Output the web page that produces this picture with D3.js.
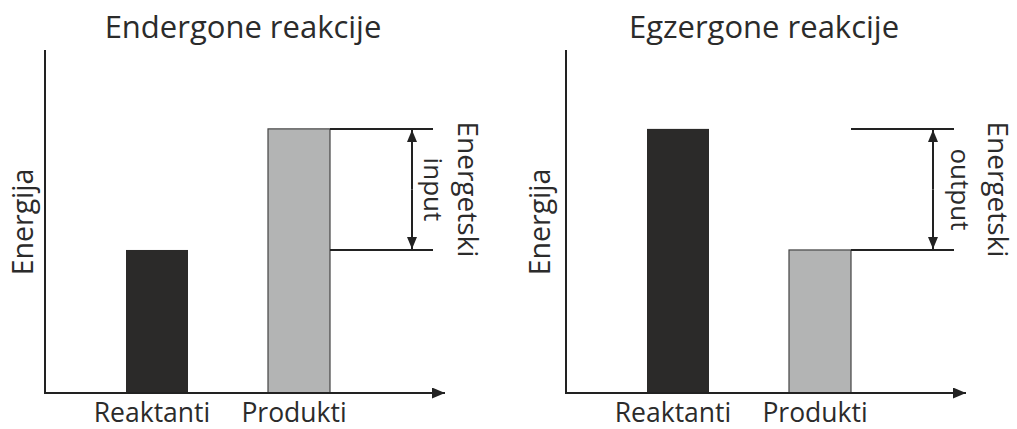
<!DOCTYPE html>
<html>
<head>
<meta charset="utf-8">
<script src="https://cdn.jsdelivr.net/npm/d3@7"></script>
<style>
  html, body { margin: 0; padding: 0; background: #fff; }
  svg { display: block; }
  text { font-family: "Open Sans", "Noto Sans", sans-serif; fill: #2b2b2b; }
</style>
</head>
<body>
<svg id="chart" width="1017" height="429"></svg>
<script>
// ---- data ----
const categories = ["Reaktanti", "Produkti"];
const panelTitles = ["Endergone reakcije", "Egzergone reakcije"];
const endergonicValues = [41.7, 77];
const exergonicValues = [77, 41.7];
const gapLabels = ["input", "output"];
const yAxisLabel = "Energija";
const gapTitle = "Energetski";

const panels = [
  { title: panelTitles[0], values: endergonicValues, gap: gapLabels[0] },
  { title: panelTitles[1], values: exergonicValues, gap: gapLabels[1] }
];

// ---- layout ----
const origins = [45, 566];
const axisY = 393, axisTop = 50;
const svg = d3.select("#chart");
const colors = ["#2b2a29", "#b3b4b4"];
const y = d3.scaleLinear().domain([0, 100]).range([axisY, axisTop]);
const x = d3.scalePoint().domain(categories).range([112, 254]);
const barW = 62;
const ink = "#222";

const defs = svg.append("defs");
function marker(id, w, h) {
  defs.append("marker").attr("id", id)
    .attr("viewBox", `0 0 ${w} ${h}`).attr("refX", w).attr("refY", h / 2)
    .attr("markerWidth", w).attr("markerHeight", h).attr("markerUnits", "userSpaceOnUse")
    .attr("orient", "auto-start-reverse")
    .append("path").attr("d", `M0,0L${w},${h / 2}L0,${h}Z`).attr("fill", ink);
}
marker("axArrow", 13, 11);
marker("gapArrow", 12, 10);

const labelOffsets = [
  { energija: -12, gapText: 379, energetski: 413 },
  { energija: -16, gapText: 385, energetski: 422 }
];

panels.forEach((p, i) => {
  const g = svg.append("g").attr("transform", `translate(${origins[i]},0)`);
  const off = labelOffsets[i];

  // bars
  g.selectAll("rect.bar").data(categories).join("rect")
    .attr("class", "bar")
    .attr("x", d => x(d) - barW / 2)
    .attr("width", barW)
    .attr("y", (d, k) => y(p.values[k]))
    .attr("height", (d, k) => y(0) - y(p.values[k]))
    .attr("fill", (d, k) => colors[k])
    .attr("stroke", (d, k) => k === 0 ? "none" : "#444")
    .attr("stroke-width", 1.2);

  // axes
  g.append("line").attr("x1", 0).attr("x2", 0).attr("y1", axisTop).attr("y2", axisY + 1)
    .attr("stroke", ink).attr("stroke-width", 2);
  g.append("line").attr("x1", -1).attr("x2", 400).attr("y1", axisY).attr("y2", axisY)
    .attr("stroke", ink).attr("stroke-width", 2).attr("marker-end", "url(#axArrow)");

  // category labels
  g.selectAll("text.cat").data(categories).join("text")
    .attr("class", "cat")
    .attr("x", d => x(d) - 5)
    .attr("y", 422)
    .attr("text-anchor", "middle")
    .attr("font-size", 26.5)
    .text(d => d);

  // title
  g.append("text").attr("x", 198).attr("y", 38).attr("text-anchor", "middle")
    .attr("font-size", 31).text(p.title);

  // y label
  g.append("text").attr("transform", `translate(${off.energija},222) rotate(-90)`)
    .attr("text-anchor", "middle").attr("font-size", 28.5).text(yAxisLabel);

  // gap lines
  const hi = d3.max(p.values), lo = d3.min(p.values);
  const lineStart = x(categories[1]) + barW / 2;
  [hi, lo].forEach(v => {
    g.append("line").attr("x1", lineStart).attr("x2", 388)
      .attr("y1", y(v)).attr("y2", y(v))
      .attr("stroke", ink).attr("stroke-width", 2);
  });
  const mid = (y(hi) + y(lo)) / 2;
  [y(hi) + 1, y(lo) - 1].forEach(end => {
    g.append("line").attr("x1", 367).attr("x2", 367)
      .attr("y1", mid).attr("y2", end)
      .attr("stroke", ink).attr("stroke-width", 2).attr("marker-end", "url(#gapArrow)");
  });

  g.append("text").attr("transform", `translate(${off.gapText},${mid}) rotate(90)`)
    .attr("text-anchor", "middle").attr("font-size", 26).text(p.gap);
  g.append("text").attr("transform", `translate(${off.energetski},${mid}) rotate(90)`)
    .attr("text-anchor", "middle").attr("font-size", 28).text(gapTitle);
});
</script>
</body>
</html>
